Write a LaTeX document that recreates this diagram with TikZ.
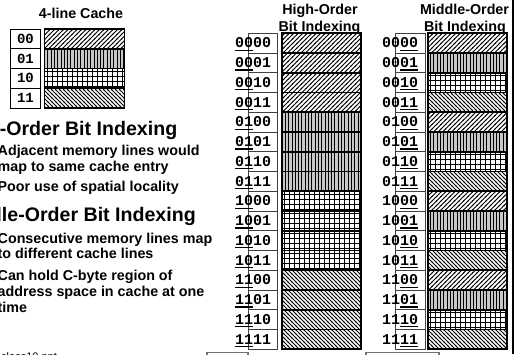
\documentclass[tikz,border=0pt]{standalone}
\usepackage{fontspec}
\setmainfont{Liberation Sans}
\newfontfamily\addrfont{Liberation Mono}
\usetikzlibrary{patterns}

% fill patterns for the cache lines
\pgfdeclarepatternformonly{hatchne}{\pgfqpoint{-1pt}{-1pt}}{\pgfqpoint{5.5pt}{5.5pt}}{\pgfqpoint{4.5pt}{4.5pt}}{%
  \pgfsetlinewidth{0.8pt}%
  \pgfpathmoveto{\pgfqpoint{-0.5pt}{-0.5pt}}%
  \pgfpathlineto{\pgfqpoint{5pt}{5pt}}%
  \pgfusepath{stroke}}
\pgfdeclarepatternformonly{hatchnw}{\pgfqpoint{-1pt}{-1pt}}{\pgfqpoint{5pt}{5pt}}{\pgfqpoint{4pt}{4pt}}{%
  \pgfsetlinewidth{0.8pt}%
  \pgfpathmoveto{\pgfqpoint{-0.5pt}{4.5pt}}%
  \pgfpathlineto{\pgfqpoint{4.5pt}{-0.5pt}}%
  \pgfusepath{stroke}}
\pgfdeclarepatternformonly{vbars}{\pgfqpoint{0pt}{-1pt}}{\pgfqpoint{3.3pt}{4.3pt}}{\pgfqpoint{3.3pt}{3.3pt}}{%
  \pgfsetlinewidth{1pt}%
  \pgfpathmoveto{\pgfqpoint{1.65pt}{-0.5pt}}%
  \pgfpathlineto{\pgfqpoint{1.65pt}{3.8pt}}%
  \pgfusepath{stroke}}

% underline a group of index bits
\newcommand\ulpart[1]{\setbox0\hbox{#1}\rlap{\rule[-3pt]{\wd0}{1.3pt}}\box0\relax}

\tikzset{
  pat0/.style={pattern=hatchne},
  pat1/.style={fill=black!22, postaction={pattern=vbars}},
  % square grid drawn as plain lines inside the cell
  pat2/.style={path picture={
      \foreach \k in {0,...,15}
        \draw[line width=0.6pt]
          ([xshift=\k*5pt+3pt]path picture bounding box.north west) --
          ([xshift=\k*5pt+3pt]path picture bounding box.south west);
      \foreach \k in {0,...,3}
        \draw[line width=0.6pt]
          ([yshift=-\k*5pt-2.6pt]path picture bounding box.north west) --
          ([yshift=-\k*5pt-2.6pt]path picture bounding box.north east);
    }},
  pat3/.style={pattern=hatchnw},
  cell/.style={draw=black, line width=1.6pt, minimum width=79.3pt, minimum height=19.75pt, inner sep=0pt, outer sep=0pt},
  lblbox/.style={draw=black!75, line width=0.7pt, minimum height=19.75pt, inner sep=0pt, outer sep=0pt},
  addr/.style={font=\addrfont\bfseries\fontsize{15}{15}\selectfont, inner sep=0pt, anchor=base west},
  cacheaddr/.style={font=\addrfont\bfseries\fontsize{14}{14}\selectfont, inner sep=0pt, anchor=base},
  title/.style={font=\bfseries\fontsize{14.3}{16}\selectfont, inner sep=0pt, anchor=base},
  heading/.style={font=\bfseries\fontsize{19.6}{22}\selectfont, inner sep=0pt, anchor=base west},
  bullet/.style={font=\bfseries\fontsize{14.3}{16}\selectfont, inner sep=0pt, anchor=base west},
}

\begin{document}
\begin{tikzpicture}[x=1pt, y=-1pt]
\useasboundingbox (0,0) rectangle (522,354);
\clip (0,0) rectangle (522,354);

% ---------- 4-line cache ----------
\node[title] (ctitle) at (81,18.3) {4-line Cache};
\foreach \j/\b in {0/00,1/01,2/10,3/11} {
  \node[lblbox, draw=black, line width=0.9pt, minimum width=30pt] (cl\j) at (25,{29+19.75*(\j+0.5)}) {};
  \node[cacheaddr] (ct\j) at (25.5,{29+19.75*(\j+0.5)+4.6}) {\b};
  \node[cell, minimum width=80pt, pat\j] (cc\j) at (84.3,{29+19.75*(\j+0.5)}) {};
}

% ---------- explanatory text ----------
\node[heading] (h1) at (-44,135) {High-Order Bit Indexing};
\node[bullet] (b1a) at (-2.5,155.5) {Adjacent memory lines would};
\node[bullet] (b1b) at (-2.5,171.5) {map to same cache entry};
\node[bullet] (b2a) at (-2.5,191.5) {Poor use of spatial locality};
\node[heading] (h2) at (-44,221.6) {Middle-Order Bit Indexing};
\node[bullet] (b3a) at (-2.5,243) {Consecutive memory lines map};
\node[bullet] (b3b) at (-2.5,258.5) {to different cache lines};
\node[bullet] (b4a) at (-2.5,280) {Can hold C-byte region of};
\node[bullet] (b4b) at (-2.5,296.5) {address space in cache at one};
\node[bullet] (b4c) at (-2.5,312) {time};
\node[font=\fontsize{11}{11}\selectfont, inner sep=0pt, anchor=base west] (foot) at (1,360) {class10.ppt};

% ---------- column titles ----------
\node[title] (ht1) at (320,14.5) {High-Order};
\node[title] (ht2) at (319.5,31) {Bit Indexing};
\node[title] (mt1) at (464.5,14.5) {Middle-Order};
\node[title] (mt2) at (465,31) {Bit Indexing};

% ---------- memory lines ----------
\foreach \i/\hi/\lo in {0/00/00,1/00/01,2/00/10,3/00/11,4/01/00,5/01/01,6/01/10,7/01/11,
                        8/10/00,9/10/01,10/10/10,11/10/11,12/11/00,13/11/01,14/11/10,15/11/11} {
  \pgfmathtruncatemacro\hp{\i/4}
  \pgfmathtruncatemacro\mp{mod(\i,4)}
  \pgfmathsetmacro\yc{33.2+19.75*(\i+0.5)}
  % high-order indexing column
  \node[lblbox, minimum width=29pt] (hl\i) at (262.5,\yc) {};
  \node[addr] (ha\i) at (235,\yc+4.8) {\ulpart{\hi}\lo};
  \node[cell, pat\hp] (hc\i) at (321.35,\yc) {};
  % middle-order indexing column
  \node[lblbox, minimum width=30pt] (ml\i) at (410,\yc) {};
  \node[addr] (ma\i) at (382,\yc+4.8) {\hi\ulpart{\lo}};
  \node[cell, pat\mp] (mc\i) at (467.35,\yc) {};
}

% ---------- frame pieces at the edges ----------
\coordinate (rtop) at (513,0);
\coordinate (rbot) at (513,354);
\draw[line width=1.5pt] (rtop) -- (rbot);
\draw[draw=black!55, line width=1.5pt] (207,352.5) rectangle (248,370);
\draw[draw=black!55, line width=1.5pt] (366,352.5) rectangle (439,370);
\end{tikzpicture}
\end{document}
